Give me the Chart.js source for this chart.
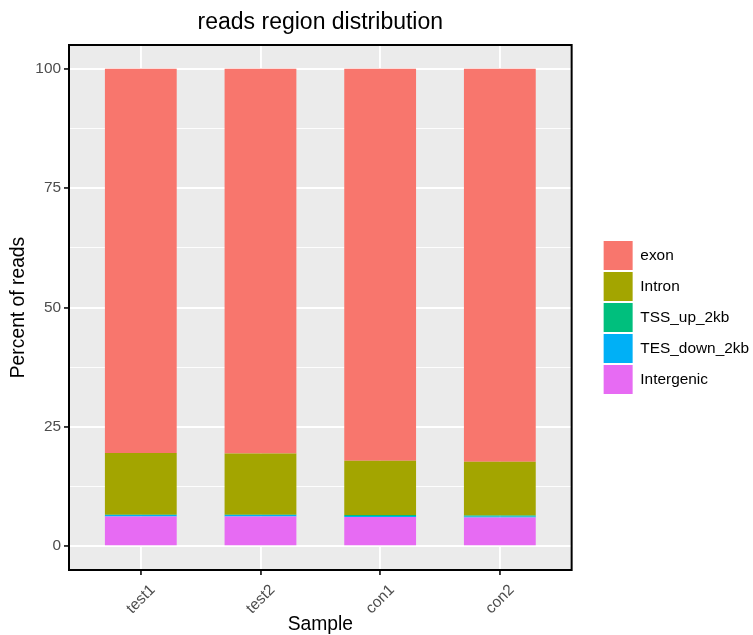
<!DOCTYPE html>
<html lang="en">
<head>
<meta charset="UTF-8">
<title>reads region distribution</title>
<script src="https://cdn.jsdelivr.net/npm/chart.js"></script>
<style>
  body { margin: 0; background: #ffffff; }
  #wrap { width: 753px; height: 635px; }
</style>
</head>
<body>
<div id="wrap"><canvas id="regionChart"></canvas></div>
<script>
// stacking order is bottom -> top, legend shows it reversed
const samples = ['test1', 'test2', 'con1', 'con2'];
const regions = ['Intergenic', 'TES_down_2kb', 'TSS_up_2kb', 'Intron', 'exon'];
const regionColors = ['#E76BF3', '#00B0F6', '#00BF7D', '#A3A500', '#F8766D'];

const intergenic = [6.2, 6.2, 6.1, 6.0];
const tesDown    = [0.35, 0.35, 0.2, 0.2];
const tssUp      = [0.05, 0.05, 0.2, 0.2];
const intron     = [12.9, 12.8, 11.4, 11.3];
const exon       = [80.5, 80.6, 82.1, 82.3];

const yTicks = [0, 12.5, 25, 37.5, 50, 62.5, 75, 87.5, 100];

const seriesValues = [intergenic, tesDown, tssUp, intron, exon];
const isMajor = v => v % 25 === 0;

Chart.defaults.font.family = '"Liberation Sans", Arial, sans-serif';

// grey panel behind the grid, black frame on top of the bars
const panelPlugin = {
    id: 'panel',
    beforeDraw(chart) {
        const { ctx, chartArea: a } = chart;
        ctx.save();
        ctx.fillStyle = '#EBEBEB';
        ctx.fillRect(a.left, a.top, a.right - a.left, a.bottom - a.top);
        ctx.restore();
    },
    afterDatasetsDraw(chart) {
        const { ctx, chartArea: a } = chart;
        ctx.save();
        ctx.strokeStyle = '#000000';
        ctx.lineWidth = 2;
        ctx.strokeRect(a.left, a.top, a.right - a.left, a.bottom - a.top);
        ctx.restore();
    }
};

const ctx = document.getElementById('regionChart').getContext('2d');

new Chart(ctx, {
    type: 'bar',
    data: {
        datasets: regions.map((name, k) => ({
            label: name,
            data: seriesValues[k].map((v, i) => ({ x: i, y: v })),
            backgroundColor: regionColors[k],
            borderWidth: 0,
            barPercentage: 0.6,
            categoryPercentage: 1
        }))
    },
    options: {
        responsive: true,
        maintainAspectRatio: false,
        animation: false,
        layout: { padding: { right: -6 } },
        scales: {
            x: {
                type: 'linear',
                stacked: true,
                offset: false,
                min: -0.6,
                max: 3.6,
                afterBuildTicks: s => { s.ticks = samples.map((_, i) => ({ value: i })); },
                afterFit: s => { s.height = 65; },
                grid: {
                    offset: false,
                    color: '#FFFFFF',
                    lineWidth: 1.9,
                    tickColor: '#333333',
                    tickWidth: 1.9,
                    tickLength: 5
                },
                border: { display: false },
                ticks: {
                    autoSkip: false,
                    minRotation: 45,
                    maxRotation: 45,
                    labelOffset: 12,
                    padding: 6,
                    color: '#4D4D4D',
                    font: { size: 15.4 },
                    callback: v => samples[v]
                },
                title: {
                    display: true,
                    text: 'Sample',
                    color: '#000000',
                    font: { size: 19.3, lineHeight: 1.1 },
                    padding: { top: 0, bottom: 0 }
                }
            },
            y: {
                stacked: true,
                min: -5,
                max: 105,
                afterBuildTicks: s => { s.ticks = yTicks.map(v => ({ value: v })); },
                afterFit: s => { s.width = 69; },
                grid: {
                    color: '#FFFFFF',
                    lineWidth: c => (c.tick && isMajor(c.tick.value)) ? 1.9 : 0.9,
                    tickColor: c => (c.tick && isMajor(c.tick.value)) ? '#333333' : 'rgba(0,0,0,0)',
                    tickWidth: 1.9,
                    tickLength: 5
                },
                border: { display: false },
                ticks: {
                    padding: 3,
                    color: '#4D4D4D',
                    font: { size: 15.4 },
                    callback: v => isMajor(v) ? String(v) : ''
                },
                title: {
                    display: true,
                    text: 'Percent of reads',
                    color: '#000000',
                    font: { size: 19.3, lineHeight: 1.1 },
                    padding: { top: 8, bottom: 0 }
                }
            },
            // empty strip between the panel and the legend
            y2: {
                position: 'right',
                grid: { display: false, drawTicks: false },
                border: { display: false },
                ticks: { display: false },
                afterFit: s => { s.width = 30; }
            }
        },
        plugins: {
            title: {
                display: true,
                text: 'reads region distribution',
                color: '#000000',
                fullSize: false,
                font: { size: 23, weight: 'normal' },
                padding: { top: 9.2, bottom: 8.2 }
            },
            legend: {
                position: 'right',
                align: 'center',
                reverse: true,
                maxWidth: 200,
                labels: {
                    boxWidth: 29,
                    boxHeight: 29,
                    padding: 2,
                    color: '#000000',
                    font: { size: 15.4 }
                }
            },
            tooltip: { enabled: false }
        }
    },
    plugins: [panelPlugin]
});
</script>
</body>
</html>
